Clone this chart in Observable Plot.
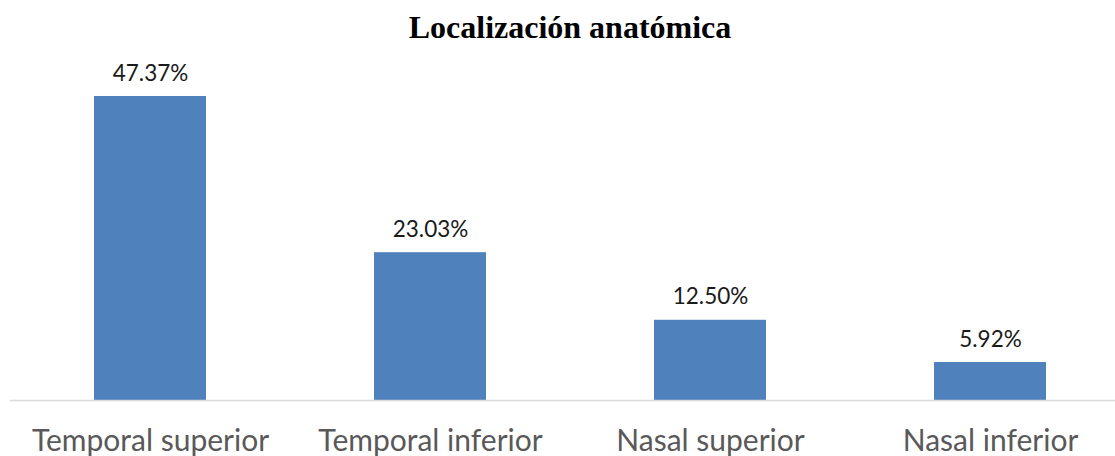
<!DOCTYPE html>
<html>
<head>
<meta charset="utf-8">
<script src="https://cdn.jsdelivr.net/npm/d3@7"></script>
<script src="https://cdn.jsdelivr.net/npm/@observablehq/plot@0.6"></script>
<style>
  body { margin: 0; background: #fff; }
  #wrap { position: relative; width: 1115px; height: 456px; }
  #title { position: absolute; left: 0; width: 1140px; top: 9px; text-align: center;
    font-family: "Liberation Serif", "Times New Roman", serif; font-weight: bold; font-size: 32px; color: #000; }
</style>
</head>
<body>
<div id="wrap"><div id="chart"></div><div id="title">Localización anatómica</div></div>
<script>
const categories = ["Temporal superior", "Temporal inferior", "Nasal superior", "Nasal inferior"];
const values = [47.37, 23.03, 12.50, 5.92];
const labels = ["47.37%", "23.03%", "12.50%", "5.92%"];
const data = categories.map((c, i) => ({cat: c, v: values[i], lab: labels[i]}));

const chart = Plot.plot({
  width: 1115,
  height: 456,
  marginLeft: 0, marginRight: 0, marginTop: 0, marginBottom: 0,
  style: {background: "#fff"},
  x: {domain: categories, range: [10, 1130], paddingInner: 0.6, paddingOuter: 0.3, axis: null},
  y: {domain: [0, 50], range: [400, 79.1], axis: null},
  marks: [
    Plot.barY(data, {x: "cat", y: "v", fill: "#4F81BD"}),
    Plot.ruleY([0], {insetLeft: 10, stroke: "#d9d9d9", strokeWidth: 1.5}),
    Plot.text(data, {x: "cat", y: "v", text: "lab", dy: -23, fontSize: 22.5, fill: "#1a1a1a",
      fontFamily: "Lato, 'Open Sans', sans-serif"}),
    Plot.text(data, {x: "cat", y: 0, text: "cat", dy: 41, fontSize: 30, fill: "#595959",
      fontFamily: "Lato, 'Open Sans', sans-serif"})
  ]
});
document.getElementById("chart").appendChild(chart);
</script>
</body>
</html>
